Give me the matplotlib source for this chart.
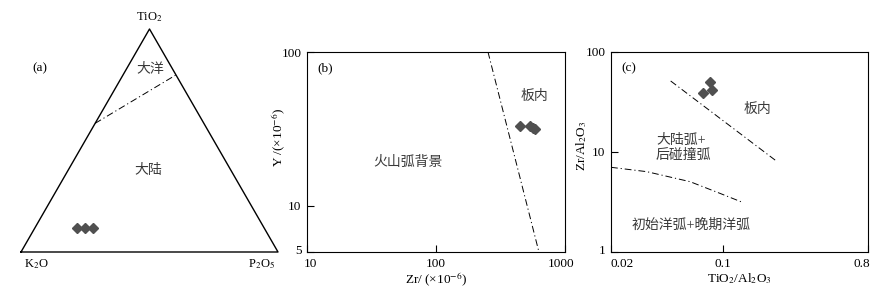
import numpy as np
import matplotlib

matplotlib.use("Agg")
import matplotlib.pyplot as plt
import matplotlib.transforms as mtrans

plt.rcParams["font.family"] = ["Liberation Serif", "Noto Sans CJK SC"]
plt.rcParams["mathtext.fontset"] = "stix"
plt.rcParams["font.size"] = 9.5

# (a) ternary TiO2-K2O-P2O5 : fractions (TiO2, P2O5), K2O is the rest
tern_tio2 = [0.107, 0.107, 0.107]
tern_p2o5 = [0.163, 0.195, 0.227]
# boundary oceanic / continental: point on K2O-TiO2 side, point on P2O5-TiO2 side
bnd_tio2 = [0.577, 0.794]
bnd_p2o5 = [0.0, 0.206]

# (b) Zr vs Y
zr_b = [450, 535, 560, 590]
y_b = [32.8, 32.8, 32.2, 31.6]
bline_zr = [253, 628]
bline_y = [100, 5]

# (c) TiO2/Al2O3 vs Zr/Al2O3
ti_c = [0.0747, 0.0828, 0.0855]
zr_c = [39.2, 50.0, 42.0]
cline1_x = [0.0471, 0.2135]
cline1_y = [51.3, 8.18]
cline2_x = [0.020, 0.0334, 0.0622, 0.0955, 0.1306]
cline2_y = [7.03, 6.36, 5.05, 3.86, 3.16]

H = np.sqrt(3) / 2
DASHDOT = (0, (7, 3, 1.2, 3))
MK = dict(marker="D", color="#505050", markersize=5.4, linestyle="none")
ZONE = dict(ha="center", va="center", color="#3a3a3a", fontsize=10)


def tern_xy(t, p):
    t = np.asarray(t, float)
    p = np.asarray(p, float)
    return p + 0.5 * t, t * H


def nudge(labels, shifts, axis="x"):
    # shift individual tick labels by a few pixels, as in the source figure
    for lbl, d in zip(labels, shifts):
        dx, dy = (d, 0) if axis == "x" else (0, d)
        off = mtrans.ScaledTranslation(dx / 100, dy / 100, fig.dpi_scale_trans)
        lbl.set_transform(lbl.get_transform() + off)


fig = plt.figure(figsize=(8.9, 2.92), dpi=100)

# ---- (a) ----
ax = fig.add_axes([21 / 890, 40 / 292, 257 / 890, 223 / 292])
ax.set_xlim(0, 1)
ax.set_ylim(0, H)
ax.axis("off")
ax.plot([0, 1, 0.5, 0], [0, 0, H, 0], color="black", lw=1.0, clip_on=False)
bx, by = tern_xy(bnd_tio2, bnd_p2o5)
ax.plot(bx, by, color="black", lw=0.7, linestyle=DASHDOT)
px, py = tern_xy(tern_tio2, tern_p2o5)
ax.plot(px, py, clip_on=False, **MK)
ax.text(0.5, H + 0.047, r"TiO$_2$", ha="center", va="center", fontsize=9)
ax.text(0.058, -0.047, r"K$_2$O", ha="center", va="center", fontsize=9)
ax.text(0.938, -0.047, r"P$_2$O$_5$", ha="center", va="center", fontsize=9)
ax.text(0.074, 0.712, "(a)", ha="center", va="center")
ax.text(0.502, 0.708, "大洋", **ZONE)
ax.text(0.494, 0.315, "大陆", **ZONE)

# ---- (b) ----
ax = fig.add_axes([307 / 890, 40 / 292, 258 / 890, 200 / 292])
ax.set_xscale("log")
ax.set_yscale("log")
ax.set_xlim(10, 1000)
ax.set_ylim(5, 100)
ax.plot(bline_zr, bline_y, color="black", lw=0.7, linestyle=DASHDOT)
ax.plot(zr_b, y_b, **MK)
ax.set_xticks([10, 100, 1000], ["10", "100", "1000"])
ax.set_yticks([5, 10, 100], ["5", "10", "100"])
ax.minorticks_off()
ax.tick_params(direction="in", length=5, width=0.8, pad=4)
nudge(ax.get_xticklabels(), [3, 0, -4])
nudge(ax.get_yticklabels(), [3, 0, 0], axis="y")
ax.set_xlabel(r"Zr/ (×10$^{-6}$)", labelpad=1)
ax.set_ylabel(r"Y /(×10$^{-6}$)")
ax.yaxis.set_label_coords(-0.072, 0.575)
ax.text(0.07, 0.92, "(b)", transform=ax.transAxes, ha="center", va="center")
ax.text(0.88, 0.78, "板内", transform=ax.transAxes, **ZONE)
ax.text(0.39, 0.45, "火山弧背景", transform=ax.transAxes, **ZONE)

# ---- (c) ----
ax = fig.add_axes([611 / 890, 40 / 292, 257 / 890, 200 / 292])
ax.set_xscale("log")
ax.set_yscale("log")
ax.set_xlim(0.02, 0.8)
ax.set_ylim(1, 100)
ax.plot(cline1_x, cline1_y, color="black", lw=0.7, linestyle=DASHDOT)
ax.plot(cline2_x, cline2_y, color="black", lw=0.7, linestyle=DASHDOT)
ax.plot(ti_c, zr_c, **MK)
ax.set_xticks([0.02, 0.1, 0.8], ["0.02", "0.1", "0.8"])
ax.set_yticks([1, 10, 100], ["1", "10", "100"])
ax.minorticks_off()
ax.tick_params(direction="in", length=5, width=0.8, pad=4)
nudge(ax.get_xticklabels(), [11, 0, -6])
nudge(ax.get_yticklabels(), [3, 0, 0], axis="y")
ax.set_xlabel(r"TiO$_2$/Al$_2$O$_3$", labelpad=1)
ax.set_ylabel(r"Zr/Al$_2$O$_3$")
ax.yaxis.set_label_coords(-0.085, 0.53)
ax.text(0.07, 0.92, "(c)", transform=ax.transAxes, ha="center", va="center")
ax.text(0.57, 0.715, "板内", transform=ax.transAxes, **ZONE)
ax.text(0.175, 0.52, "大陆弧+\n后碰撞弧", transform=ax.transAxes, ha="left", va="center",
        color="#3a3a3a", fontsize=10, linespacing=1.25)
ax.text(0.31, 0.135, "初始洋弧+晚期洋弧", transform=ax.transAxes, **ZONE)

fig.savefig("out.png", dpi=100)
